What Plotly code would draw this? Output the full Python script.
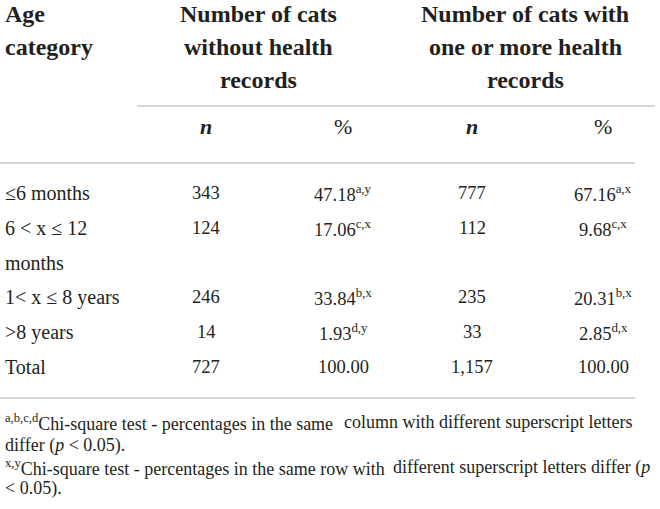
import plotly.graph_objects as go

# datos de la tabla
categorias = [["≤6 months"], ["6 < x ≤ 12", "months"], ["1< x ≤ 8 years"], [">8 years"], ["Total"]]
n_sin = [343, 124, 246, 14, 727]
pct_sin = ["47.18", "17.06", "33.84", "1.93", "100.00"]
sup_sin = ["a,y", "c,x", "b,x", "d,y", ""]
n_con = [777, 112, 235, 33, 1157]
pct_con = ["67.16", "9.68", "20.31", "2.85", "100.00"]
sup_con = ["a,x", "c,x", "b,x", "d,x", ""]

encabezado_edad = ["Age", "category"]
encabezados = [["Number of cats", "without health", "records"],
               ["Number of cats with", "one or more health", "records"]]
subencabezados = ["<b><i>n</i></b>", "%", "<b><i>n</i></b>", "%"]
# notas al pie, las lineas justificadas van en dos trozos
notas = [["<sup>a,b,c,d</sup>Chi-square test - percentages in the same",
          "column with different superscript letters"],
         ["differ (<i>p</i> < 0.05)."],
         ["<sup>x,y</sup>Chi-square test - percentages in the same row with",
          "different superscript letters differ (<i>p</i>"],
         ["< 0.05)."]]

color_texto = '#231f20'
color_linea = '#c8c8c8'
fuente = 'Liberation Serif'

fig = go.Figure()
anot = []


def texto(x, y, t, size, anchor='center', bold=False):
    if bold:
        t = '<b>' + t + '</b>'
    anot.append(dict(x=x, y=y, xref='x', yref='y', text=t, showarrow=False,
                     xanchor=anchor, yanchor='middle',
                     font=dict(family=fuente, size=size, color=color_texto)))


# encabezados
y_enc = [14, 47, 80]
for i, t in enumerate(encabezado_edad):
    texto(3, y_enc[i], t, 24, anchor='left', bold=True)
for xc, lineas in zip([258, 525], encabezados):
    for i, t in enumerate(lineas):
        texto(xc, y_enc[i], t, 24, bold=True)

x_cols = [206, 343, 472, 603]
for xc, t in zip(x_cols, subencabezados):
    texto(xc, 126, t, 22)

# filas
y = 193
paso = 34.8
for i, lineas in enumerate(categorias):
    for j, t in enumerate(lineas):
        texto(3, y + j * paso, t, 20, anchor='left')
    texto(x_cols[0], y, f"{n_sin[i]:,}", 18.5)
    texto(x_cols[1], y, pct_sin[i] + (f"<sup>{sup_sin[i]}</sup>" if sup_sin[i] else ""), 18.5)
    texto(x_cols[2], y, f"{n_con[i]:,}", 18.5)
    texto(x_cols[3], y, pct_con[i] + (f"<sup>{sup_con[i]}</sup>" if sup_con[i] else ""), 18.5)
    y += paso * len(lineas)

# notas al pie
fin_linea = {0: 635, 2: 652}
for k, (trozos, yn) in enumerate(zip(notas, [422, 445, 467, 488])):
    texto(3, yn, trozos[0], 18, anchor='left')
    if len(trozos) > 1:
        texto(fin_linea[k], yn, trozos[1], 18, anchor='right')

# lineas horizontales
for x0, x1, yl in [(137, 655, 106), (0, 635, 163), (0, 635, 398)]:
    fig.add_shape(type='line', x0=x0, x1=x1, y0=yl, y1=yl, xref='x', yref='y',
                  line=dict(color=color_linea, width=1.5))

fig.update_layout(width=660, height=509, margin=dict(l=0, r=0, t=0, b=0),
                  paper_bgcolor='white', plot_bgcolor='white',
                  annotations=anot, showlegend=False,
                  xaxis=dict(range=[0, 660], visible=False, fixedrange=True),
                  yaxis=dict(range=[509, 0], visible=False, fixedrange=True))
# quitar el margen del body para que la tabla quede pegada a la esquina
fig.write_html("out.html", config={'displayModeBar': False},
               post_script="document.body.style.margin='0px';")
